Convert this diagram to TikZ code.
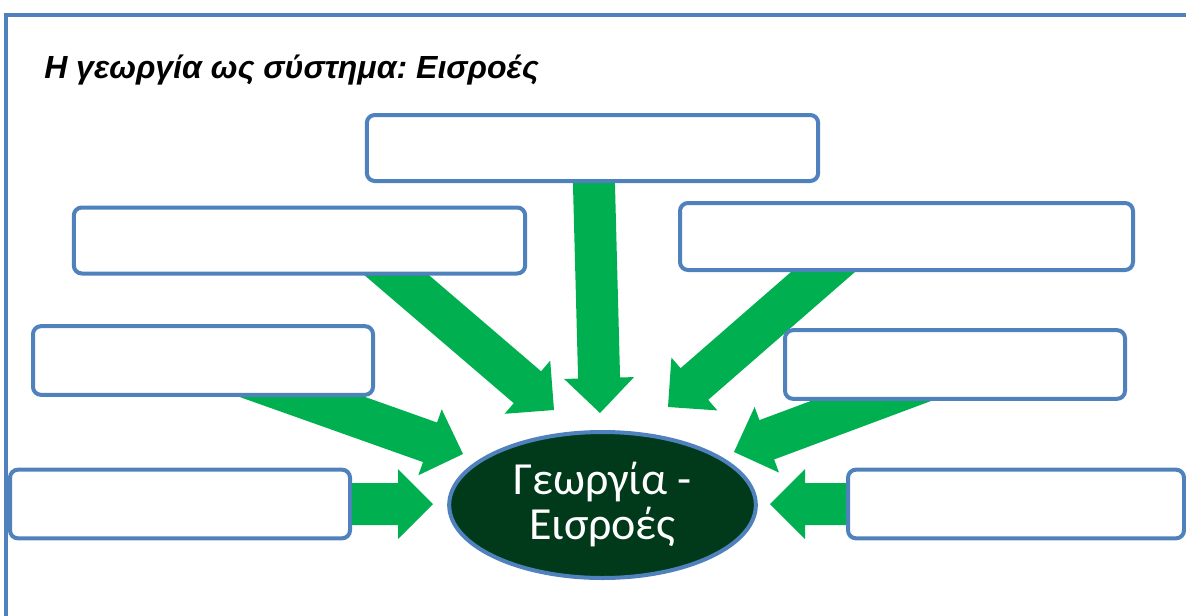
\documentclass[tikz,border=0pt]{standalone}
\usepackage{fontspec}
\usetikzlibrary{calc,shapes.geometric}
\setmainfont{Liberation Sans}
\newfontfamily\carlito{Carlito}
\frenchspacing

\definecolor{frameblue}{HTML}{4F81BD}
\definecolor{arrowgreen}{HTML}{00B050}
\definecolor{darkcore}{HTML}{003A1A}

\pgfdeclarelayer{bg}
\pgfsetlayers{bg,main}

\tikzset{
  frameline/.style={draw=frameblue, line width=2.8pt},
  inbox/.style={draw=frameblue, line width=3pt, rounded corners=6pt, fill=white, inner sep=0pt},
  widebox/.style={inbox, minimum width=338.5pt, minimum height=49.5pt},
  narrowbox/.style={inbox, minimum width=255pt, minimum height=51.5pt},
  core/.style={ellipse, draw=frameblue, line width=3pt, fill=darkcore, text=white,
    minimum width=230pt, minimum height=109.5pt, inner sep=0pt, align=center,
    font=\carlito\fontsize{34.5}{33.75}\selectfont},
  flow/.style={fill=arrowgreen},
}

% block arrow from #1 to its tip #2: shaft 42px, head 70px wide and 35px long
\newcommand{\flowarrow}[2]{%
  \coordinate (hb) at ($(#2)!26.25pt!(#1)$);
  \fill[flow] ($(#1)!15.75pt!90:(#2)$) -- ($(hb)!15.75pt!90:(#2)$)
    -- ($(hb)!26.25pt!90:(#2)$) -- (#2) -- ($(hb)!26.25pt!-90:(#2)$)
    -- ($(hb)!15.75pt!-90:(#2)$) -- ($(#1)!15.75pt!-90:(#2)$) -- cycle;}

\begin{document}
\begin{tikzpicture}[x=0.75pt, y=-0.75pt]
  \useasboundingbox (0,0) rectangle (1186,615);
  \clip (0,0) rectangle (1186,615);

  % outer frame
  \draw[frameline] (1200,15) -- (6,15) -- (6,630);

  % title
  \node[anchor=base west, inner sep=0pt, font=\fontsize{24}{28}\selectfont\bfseries\itshape]
    (title) at (44,78) {Η γεωργία ως σύστημα: Εισροές};

  % input boxes
  \node[widebox]   (b-top) at (592.5,148) {};
  \node[widebox]   (b-ul)  at (299.5,240.5) {};
  \node[widebox, minimum width=339.75pt, minimum height=50.25pt] (b-ur) at (906.5,236.5) {};
  \node[narrowbox] (b-ml)  at (203,360.5) {};
  \node[narrowbox] (b-mr)  at (955,364.5) {};
  \node[narrowbox] (b-bl)  at (180,504) {};
  \node[narrowbox, minimum width=252pt] (b-br) at (1016,504) {};

  % central ellipse
  \node[core] (core) at (602.5,505) {Γεωργία -\\Εισροές};

  % arrow starts inside the boxes, tips around the ellipse
  \coordinate (s1) at ($(b-top.south)+(1.2,-9)$);
  \coordinate (s2) at ($(b-ul.south)+(73.1,-21)$);
  \coordinate (s3) at ($(b-ur.south)+(-59.2,-21.2)$);
  \coordinate (s4) at ($(b-ml.south)+(32.5,-23.6)$);
  \coordinate (s5) at ($(b-mr.south)+(-12,-26.7)$);
  \coordinate (s6) at ($(b-bl.east)+(-10,0)$);
  \coordinate (s7) at ($(b-br.west)+(10,0)$);
  \coordinate (t1) at (600,413);
  \coordinate (t2) at (554,410);
  \coordinate (t3) at (668,407);
  \coordinate (t4) at (463,454);
  \coordinate (t5) at (734,452);
  \coordinate (t6) at (433,504);
  \coordinate (t7) at (770,504);

  \begin{pgfonlayer}{bg}
    \flowarrow{s1}{t1}
    \flowarrow{s2}{t2}
    \flowarrow{s3}{t3}
    \flowarrow{s4}{t4}
    \flowarrow{s5}{t5}
    \flowarrow{s6}{t6}
    \flowarrow{s7}{t7}
  \end{pgfonlayer}
\end{tikzpicture}
\end{document}
